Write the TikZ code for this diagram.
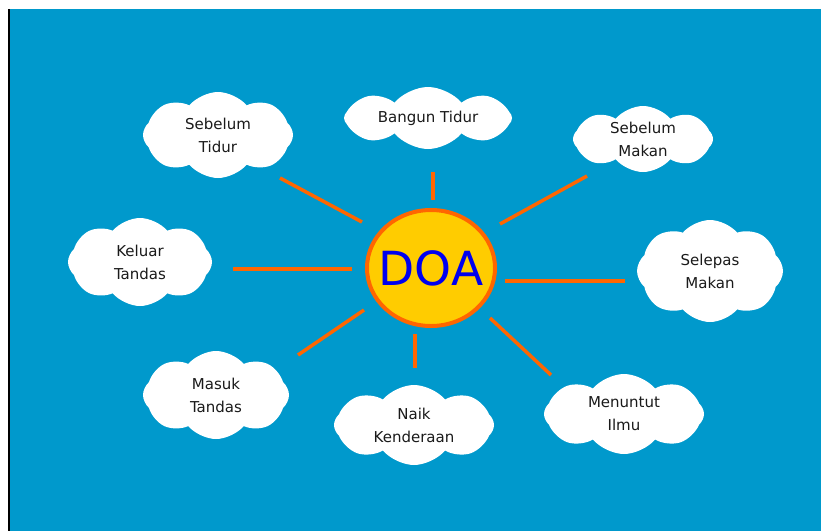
\documentclass[tikz,border=0pt]{standalone}
\usepackage{fontspec}
\setmainfont{DejaVu Sans}
\usetikzlibrary{shapes.symbols,shapes.geometric}
\definecolor{bg}{HTML}{0099CC}
\definecolor{raycol}{HTML}{FF6600}
\definecolor{suncol}{HTML}{FFCC00}
\definecolor{txtcol}{HTML}{1A1A1A}
\definecolor{doacol}{HTML}{0000EE}
\begin{document}
\begin{tikzpicture}[x=1pt,y=-1pt,
  cloudbox/.style={cloud, cloud puffs=8, cloud puff arc=100, cloud ignores aspect, fill=white, draw=none,
    align=center, font=\fontsize{15}{23}\selectfont, text=txtcol, inner sep=0pt},
  rayline/.style={draw=raycol, line width=3.5pt}]
\useasboundingbox (0,0) rectangle (821,531);
\fill[white] (0,0) rectangle (821,531);
\fill[bg] (9,9) rectangle (821,531);
\draw[black, line width=2pt] (9,9) -- (9,531);

\node[ellipse, minimum width=128pt, minimum height=116pt, fill=suncol, draw=raycol, line width=4pt,
  inner sep=0pt] (doa) at (431,268) {};
\node[text=doacol, font=\fontsize{47}{47}\selectfont, inner sep=0pt] (doatext) at (doa.center) {DOA};

\node[cloudbox, minimum width=150pt, minimum height=86pt] (c1) at (218,135) {Sebelum\\Tidur};
\node[cloudbox, minimum width=168pt, minimum height=62pt] (c2) at (428,118) {Bangun Tidur};
\node[cloudbox, minimum width=140pt, minimum height=66pt] (c3) at (643,139) {Sebelum\\Makan};
\node[cloudbox, minimum width=144pt, minimum height=88pt] (c4) at (140,262) {Keluar\\Tandas};
\node[cloudbox, minimum width=146pt, minimum height=102pt] (c5) at (710,271) {Selepas\\Makan};
\node[cloudbox, minimum width=146pt, minimum height=88pt] (c6) at (216,395) {Masuk\\Tandas};
\node[cloudbox, minimum width=160pt, minimum height=80pt] (c7) at (414,425) {Naik\\Kenderaan};
\node[cloudbox, minimum width=160pt, minimum height=80pt] (c8) at (624,414) {Menuntut\\Ilmu};

\coordinate (r1a) at (280,178); \coordinate (r1b) at (362,222);
\coordinate (r2a) at (433,172); \coordinate (r2b) at (433,200);
\coordinate (r3a) at (587,176); \coordinate (r3b) at (500,224);
\coordinate (r4a) at (233,269); \coordinate (r4b) at (352,269);
\coordinate (r5a) at (505,281); \coordinate (r5b) at (625,281);
\coordinate (r6a) at (298,355); \coordinate (r6b) at (364,310);
\coordinate (r7a) at (415,334); \coordinate (r7b) at (415,368);
\coordinate (r8a) at (490,318); \coordinate (r8b) at (551,375);
\foreach \i in {1,...,8} { \draw[rayline] (r\i a) -- (r\i b); }
\end{tikzpicture}
\end{document}
